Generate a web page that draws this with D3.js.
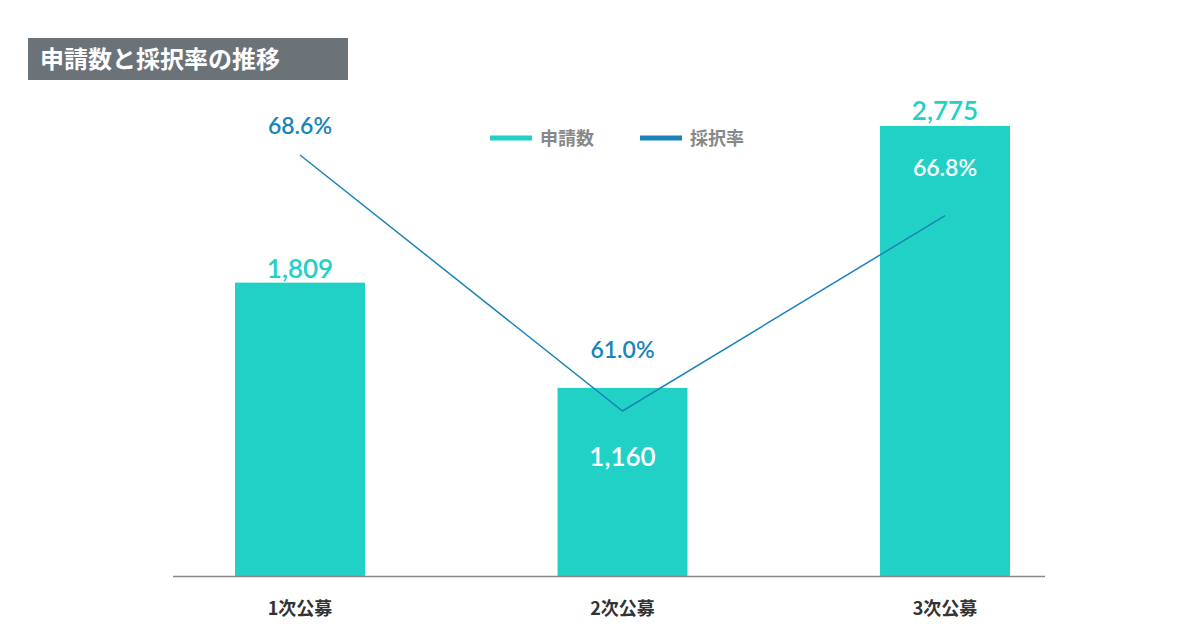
<html>
<head>
<meta charset="utf-8">
<style>
body { margin:0; background:#fff; }
svg { font-family: Lato, "Noto Sans CJK JP", sans-serif; }
</style>
</head>
<body>
<script src="https://cdnjs.cloudflare.com/ajax/libs/d3/7.8.5/d3.min.js"></script>
<script>
var categories = ["1次公募", "2次公募", "3次公募"];
var applications = [1809, 1160, 2775];
var rates = [68.6, 61.0, 66.8];
var appLabels = ["1,809", "1,160", "2,775"];
var rateLabels = ["68.6%", "61.0%", "66.8%"];

var teal = "#22d1c6", blue = "#1a84b8";
var svg = d3.select("body").append("svg").attr("width", 1200).attr("height", 630);

var x = d3.scaleBand().domain(categories).range([138.75, 1106.25]).paddingInner(0.597).paddingOuter(0.2985);
var y = d3.scaleLinear().domain([0, 2775]).range([576, 126]);
var yr = d3.scaleLinear().domain([61, 68.6]).range([411, 155]);

// title
svg.append("rect").attr("x", 28).attr("y", 38).attr("width", 320).attr("height", 42).attr("fill", "#6b7278");
svg.append("text").attr("x", 40).attr("y", 68).attr("fill", "#fff").attr("font-size", 24).attr("font-weight", "bold")
  .attr("font-family", "'Noto Sans CJK JP'").text("申請数と採択率の推移");

// bars
svg.selectAll(".bar").data(applications).enter().append("rect")
  .attr("x", (d, i) => x(categories[i])).attr("width", x.bandwidth())
  .attr("y", d => y(d)).attr("height", d => 576 - y(d)).attr("fill", teal);

// axis
svg.append("line").attr("x1", 173).attr("x2", 1045).attr("y1", 576.5).attr("y2", 576.5).attr("stroke", "#888").attr("stroke-width", 1.5);
svg.selectAll(".cat").data(categories).enter().append("text")
  .attr("x", d => x(d) + x.bandwidth() / 2).attr("y", 615).attr("text-anchor", "middle")
  .attr("font-size", 18).attr("font-weight", "bold").attr("fill", "#333")
  .attr("font-family", "'Noto Sans CJK JP'").text(d => d);

// line
var cx = (d, i) => x(categories[i]) + x.bandwidth() / 2;
svg.append("path").datum(rates)
  .attr("d", d3.line().x(cx).y(d => yr(d)))
  .attr("fill", "none").attr("stroke", blue).attr("stroke-width", 1.5);

// value labels
var appPos = [{dy: -5, c: teal}, {dy: 78, c: "#fff"}, {dy: -6, c: teal}];
svg.selectAll(".al").data(applications).enter().append("text")
  .attr("x", cx).attr("y", (d, i) => y(d) + appPos[i].dy).attr("text-anchor", "middle")
  .attr("font-size", 26).attr("font-weight", 600).attr("fill", (d, i) => appPos[i].c)
  .text((d, i) => appLabels[i]);
var ratePos = [{dy: -21, c: blue}, {dy: -53, c: blue}, {dy: -40, c: "#fff"}];
svg.selectAll(".rl").data(rates).enter().append("text")
  .attr("x", cx).attr("y", (d, i) => yr(d) + ratePos[i].dy)
  .attr("text-anchor", "middle")
  .attr("font-size", 23).attr("font-weight", 600).attr("fill", (d, i) => ratePos[i].c)
  .text((d, i) => rateLabels[i]);

// legend
var legend = [{t: "申請数", c: teal, x: 490}, {t: "採択率", c: blue, x: 640}];
legend.forEach(function (l) {
  svg.append("line").attr("x1", l.x).attr("x2", l.x + 42).attr("y1", 138).attr("y2", 138).attr("stroke", l.c).attr("stroke-width", 5);
  svg.append("text").attr("x", l.x + 50).attr("y", 145).attr("font-size", 18).attr("font-weight", "bold")
    .attr("fill", "#888").attr("font-family", "'Noto Sans CJK JP'").text(l.t);
});
</script>
</body>
</html>
